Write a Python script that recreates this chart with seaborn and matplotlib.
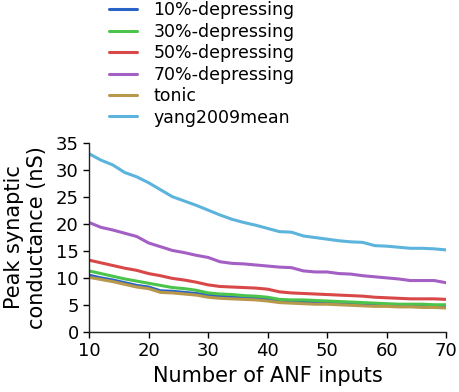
import numpy as np
import pandas as pd
import seaborn as sns
import matplotlib
matplotlib.use("Agg")
import matplotlib.pyplot as plt

# number of ANF inputs
n_inputs = list(range(10, 71, 2))

dep10 = [10.5, 10.0, 9.6, 9.1, 8.6, 8.3, 7.6, 7.5, 7.3, 7.1, 6.8, 6.6, 6.4, 6.3, 6.2, 6.0,
         5.7, 5.6, 5.5, 5.4, 5.4, 5.3, 5.2, 5.1, 5.0, 5.0, 4.9, 4.9, 4.8, 4.8, 4.8]
dep30 = [11.3, 10.8, 10.3, 9.8, 9.4, 9.0, 8.6, 8.2, 8.0, 7.7, 7.2, 7.0, 6.9, 6.7, 6.6, 6.4,
         6.0, 5.9, 5.9, 5.8, 5.7, 5.6, 5.5, 5.4, 5.3, 5.2, 5.1, 5.1, 5.1, 5.0, 5.0]
dep50 = [13.3, 12.8, 12.3, 11.8, 11.4, 10.8, 10.4, 9.9, 9.6, 9.2, 8.7, 8.4, 8.3, 8.2, 8.1, 7.9,
         7.4, 7.2, 7.1, 7.0, 6.9, 6.8, 6.7, 6.6, 6.4, 6.3, 6.2, 6.1, 6.1, 6.1, 6.0]
dep70 = [20.3, 19.4, 18.9, 18.3, 17.7, 16.5, 15.8, 15.1, 14.7, 14.2, 13.8, 13.0, 12.7, 12.6, 12.4, 12.2,
         12.0, 11.9, 11.3, 11.1, 11.1, 10.8, 10.7, 10.4, 10.2, 10.0, 9.8, 9.5, 9.5, 9.5, 9.1]
tonic = [10.1, 9.7, 9.3, 8.8, 8.3, 8.0, 7.3, 7.2, 7.0, 6.8, 6.4, 6.2, 6.1, 6.0, 5.9, 5.7,
         5.4, 5.3, 5.2, 5.1, 5.1, 5.0, 4.9, 4.8, 4.7, 4.7, 4.6, 4.6, 4.5, 4.5, 4.4]
yang = [33.1, 31.9, 31.0, 29.6, 28.8, 27.7, 26.4, 25.1, 24.3, 23.5, 22.6, 21.7, 20.9, 20.3, 19.8, 19.2,
        18.6, 18.5, 17.8, 17.5, 17.2, 16.9, 16.7, 16.6, 16.0, 15.9, 15.7, 15.5, 15.5, 15.4, 15.2]

labels = ['10%-depressing', '30%-depressing', '50%-depressing', '70%-depressing', 'tonic', 'yang2009mean']
colors = ['#2a63c8', '#4cc44c', '#d94848', '#a35fc3', '#b8984a', '#5cb4dc']

series = [dep10, dep30, dep50, dep70, tonic, yang]
frames = []
for lab, vals in zip(labels, series):
    frames.append(pd.DataFrame({'n': n_inputs, 'g': vals, 'kind': lab}))
df = pd.concat(frames, ignore_index=True)

sns.set_style('ticks')
plt.rcParams['font.family'] = ['DejaVu Sans']
plt.rcParams['text.color'] = 'black'
plt.rcParams['axes.labelcolor'] = 'black'
plt.rcParams['xtick.color'] = 'black'
plt.rcParams['ytick.color'] = 'black'
plt.rcParams['axes.edgecolor'] = '#222222'

fig = plt.figure(figsize=(4.59, 3.92), dpi=100)
ax = fig.add_axes([0.194, 0.154, 0.778, 0.48])

sns.lineplot(data=df, x='n', y='g', hue='kind', hue_order=labels,
             palette=dict(zip(labels, colors)), linewidth=2.2, ax=ax, legend=True)

ax.set_xlim(10, 70)
ax.set_ylim(0, 35)
ax.set_xticks([10, 20, 30, 40, 50, 60, 70])
ax.set_yticks([0, 5, 10, 15, 20, 25, 30, 35])
ax.tick_params(labelsize=13, length=4, width=1, direction='out')
ax.set_xlabel('Number of ANF inputs', fontsize=15)
ax.set_ylabel('Peak synaptic\nconductance (nS)', fontsize=15, labelpad=6)
ax.xaxis.labelpad = 4
sns.despine(ax=ax)
for sp in ['left', 'bottom']:
    ax.spines[sp].set_linewidth(1.0)

handles, labs = ax.get_legend_handles_labels()
ax.get_legend().remove()
fig.legend(handles, labs, loc='upper left', bbox_to_anchor=(0.211, 1.028),
           frameon=False, fontsize=12.5, labelspacing=0.2, handlelength=1.6,
           handletextpad=0.95, borderpad=0.2)

fig.savefig('out.png', dpi=100)
